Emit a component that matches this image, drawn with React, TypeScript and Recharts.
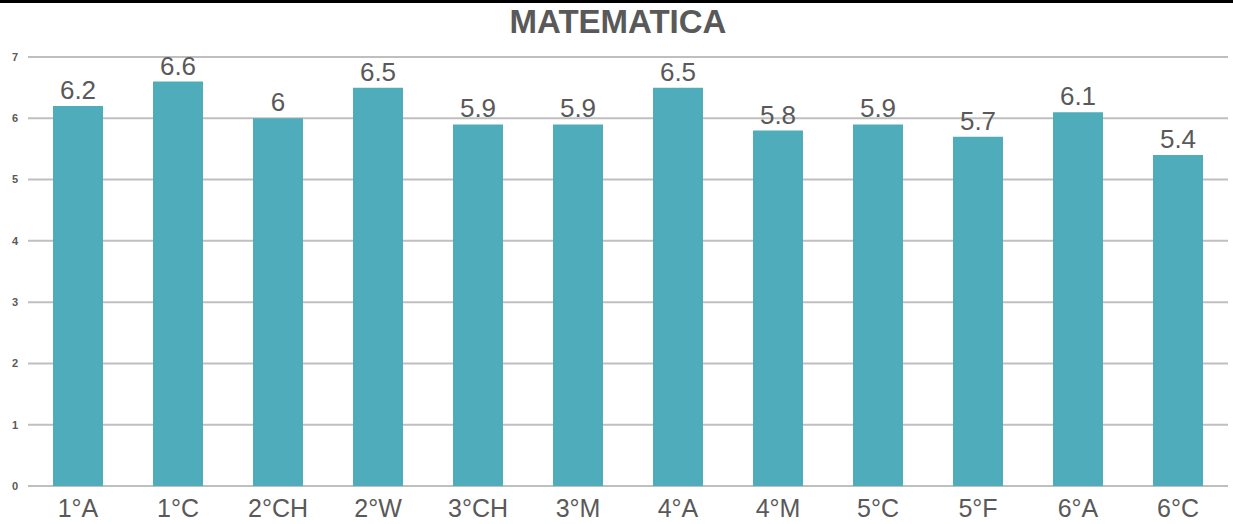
import { BarChart, Bar, XAxis, YAxis, CartesianGrid, LabelList } from 'recharts';

const grades = ['1°A', '1°C', '2°CH', '2°W', '3°CH', '3°M', '4°A', '4°M', '5°C', '5°F', '6°A', '6°C'];
const averages = [6.2, 6.6, 6, 6.5, 5.9, 5.9, 6.5, 5.8, 5.9, 5.7, 6.1, 5.4];
const yTicks = [0, 1, 2, 3, 4, 5, 6, 7];

const chartData = grades.map((grade, i) => ({ grade, value: averages[i] }));

const font = '"Liberation Sans", Arial, sans-serif';
const gray = '#595959';

export default function App() {
  return (
    <div
      style={{
        position: 'absolute',
        left: 0,
        top: 0,
        width: 1233,
        height: 524,
        background: '#fff',
        fontFamily: font,
        overflow: 'hidden',
      }}
    >
      <div style={{ position: 'absolute', left: 0, top: 0, width: 1233, height: 3, background: '#000' }} />
      <div
        style={{
          position: 'absolute',
          left: 0,
          top: 4,
          width: 1236,
          textAlign: 'center',
          fontSize: 33,
          fontWeight: 'bold',
          color: gray,
          lineHeight: '36px',
        }}
      >
        MATEMATICA
      </div>
      <div style={{ position: 'absolute', left: 0, top: 0 }}>
        <BarChart
          width={1233}
          height={524}
          data={chartData}
          margin={{ top: 57, right: 5, bottom: 0, left: 0 }}
          barCategoryGap={50}
        >
          <CartesianGrid vertical={false} stroke="#BFBFBF" strokeWidth={2} />
          <XAxis
            dataKey="grade"
            axisLine={false}
            tickLine={false}
            tickSize={0}
            tickMargin={13}
            height={38}
            interval={0}
            tick={{ fontSize: 25, fill: gray, fontFamily: font }}
          />
          <YAxis
            domain={[0, 7]}
            ticks={yTicks}
            width={28}
            axisLine={false}
            tickLine={false}
            tickSize={0}
            tickMargin={10}
            tick={{ fontSize: 11, fill: gray, fontFamily: font, fontWeight: 'bold' }}
          />
          <Bar dataKey="value" fill="#4FACBA" barSize={50} isAnimationActive={false}>
            <LabelList
              dataKey="value"
              position="top"
              offset={7}
              style={{ fontSize: 26, fill: gray, fontFamily: font }}
            />
          </Bar>
        </BarChart>
      </div>
    </div>
  );
}
